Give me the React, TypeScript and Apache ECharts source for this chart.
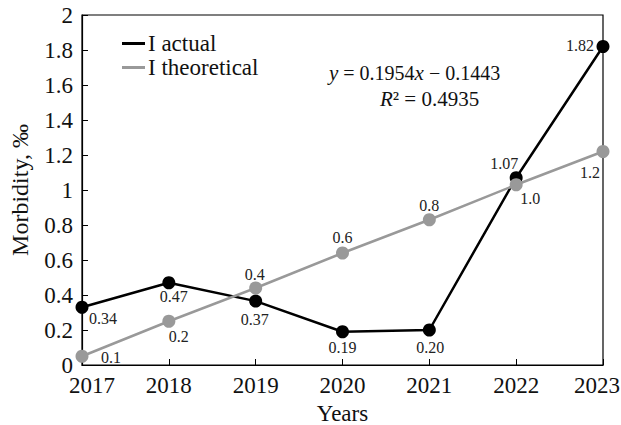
import React, { useEffect, useRef } from "react";
import * as echarts from "echarts";

const years = ["2017", "2018", "2019", "2020", "2021", "2022", "2023"];
const actual = [0.33, 0.47, 0.365, 0.19, 0.2, 1.07, 1.82];
const actualLabels = ["0.34", "0.47", "0.37", "0.19", "0.20", "1.07", "1.82"];
const theoretical = [0.05, 0.25, 0.44, 0.64, 0.83, 1.03, 1.22];
const theoreticalLabels = ["0.1", "0.2", "0.4", "0.6", "0.8", "1.0", "1.2"];

const FONT = "Liberation Serif";

// label centre offsets from the point centre
const actualOff = [[21, 11], [5, 14], [-1, 18], [0, 16], [1, 17], [-12, -14], [-23, -1]];
const theoOff = [[29, 1], [10, 15], [-1, -14], [0, -16], [0, -14], [14, 14], [-13, 21]];

export default function App() {
  const ref = useRef<HTMLDivElement>(null);
  useEffect(() => {
    const chart = echarts.init(ref.current!, null, { renderer: "svg" });
    const labelBase = { show: true, position: "inside", fontFamily: FONT, fontSize: 16, color: "#222" };
    chart.setOption({
      animation: false,
      textStyle: { fontFamily: FONT },
      grid: {
        left: 82, right: 18, top: 15, bottom: 60, show: true, borderColor: "#000", borderWidth: 1.2,
        outerBoundsMode: "none", containLabel: false,
      },
      legend: {
        left: 122,
        top: 32,
        padding: 0,
        orient: "vertical",
        itemGap: 1,
        itemWidth: 23,
        itemHeight: 3,
        icon: "rect",
        textStyle: { fontFamily: FONT, fontSize: 23, color: "#111", padding: [0, 0, 0, -2] },
        data: ["I actual", "I theoretical"],
      },
      xAxis: {
        type: "category",
        data: years,
        boundaryGap: false,
        name: "Years",
        nameLocation: "middle",
        nameGap: 32,
        nameTextStyle: { fontFamily: FONT, fontSize: 23, color: "#111" },
        axisLine: { lineStyle: { color: "#000", width: 1.2 } },
        axisTick: { inside: true, length: 6, interval: 0, lineStyle: { color: "#000" } },
        axisLabel: {
          interval: 0,
          hideOverlap: false,
          fontFamily: FONT,
          fontSize: 23,
          color: "#111",
          margin: 9,
          formatter: (v: string) => (v === years[0] ? "{f|" + v + "}" : v === years[years.length - 1] ? "{l|" + v + "}" : v),
          rich: {
            f: { fontFamily: FONT, fontSize: 23, color: "#111", padding: [0, 0, 0, 20] },
            l: { fontFamily: FONT, fontSize: 23, color: "#111", padding: [0, 12, 0, 0] },
          },
        },
        splitLine: { show: false },
      },
      yAxis: {
        type: "value",
        min: 0,
        max: 2,
        interval: 0.2,
        name: "Morbidity, ‰",
        nameLocation: "middle",
        nameGap: 50,
        nameTextStyle: { fontFamily: FONT, fontSize: 24, color: "#111" },
        axisLine: { show: true, lineStyle: { color: "#000", width: 1.2 } },
        axisTick: { show: true, inside: true, length: 6, lineStyle: { color: "#000" } },
        axisLabel: {
          fontFamily: FONT,
          fontSize: 23,
          color: "#111",
          margin: 9,
          hideOverlap: false,
          formatter: (v: number) => String(Math.round(v * 10) / 10),
        },
        splitLine: { show: false },
      },
      series: [
        {
          name: "I actual",
          type: "line",
          data: actual.map((v, i) => ({
            value: v,
            label: { ...labelBase, offset: actualOff[i], formatter: actualLabels[i] },
          })),
          symbol: "circle",
          symbolSize: 13,
          itemStyle: { color: "#000" },
          lineStyle: { color: "#000", width: 2.5 },
          z: 3,
        },
        {
          name: "I theoretical",
          type: "line",
          data: theoretical.map((v, i) => ({
            value: v,
            label: { ...labelBase, offset: theoOff[i], formatter: theoreticalLabels[i] },
          })),
          symbol: "circle",
          symbolSize: 13,
          itemStyle: { color: "#999" },
          lineStyle: { color: "#999", width: 2.5 },
          z: 4,
        },
      ],
      graphic: [
        {
          type: "text",
          left: 329,
          top: 62,
          style: {
            text: "{i|y} = 0.1954{i|x} − 0.1443",
            fontFamily: FONT,
            fontSize: 20,
            fill: "#111",
            rich: { i: { fontStyle: "italic", fontFamily: FONT, fontSize: 21 } },
          },
        },
        {
          type: "text",
          left: 380,
          top: 88,
          style: {
            text: "{i|R}² = 0.4935",
            fontFamily: FONT,
            fontSize: 21,
            fill: "#111",
            rich: { i: { fontStyle: "italic", fontFamily: FONT, fontSize: 21 } },
          },
        },
      ],
    });
    return () => chart.dispose();
  }, []);
  return <div ref={ref} style={{ width: 621, height: 425, position: "absolute", left: 0, top: 0 }} />;
}
